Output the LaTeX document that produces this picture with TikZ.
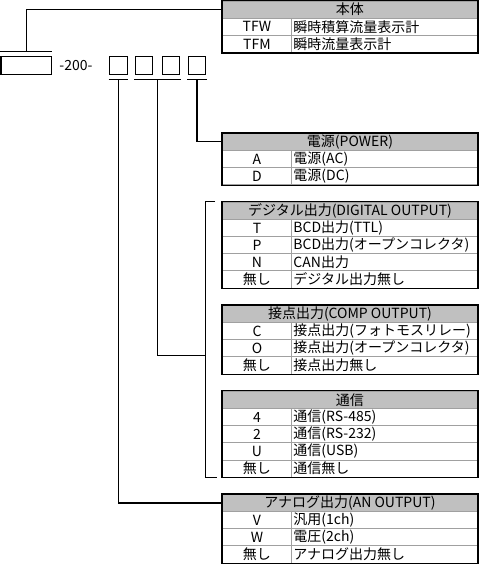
\documentclass[tikz,border=0pt]{standalone}
\usepackage{fontspec}
\setmainfont{Noto Sans CJK JP}
\usetikzlibrary{calc}
\definecolor{hdrgrey}{HTML}{C0C0C0}
\definecolor{sepgrey}{HTML}{A0A0A0}
\tikzset{
  conn/.style={draw=black, line width=0.8pt},
  hdr/.style={draw=sepgrey, fill=hdrgrey, line width=0.7pt, inner sep=0pt,
    minimum width=191.25pt, minimum height=12.89pt, anchor=north west},
  keycell/.style={draw=sepgrey, line width=0.7pt, inner sep=0pt,
    minimum width=51.75pt, minimum height=12.89pt, anchor=north west},
  valcell/.style={draw=sepgrey, line width=0.7pt, inner ysep=0pt, inner xsep=1.5pt,
    text width=136.5pt, align=left, minimum height=12.89pt, anchor=north west},
  tborder/.style={draw=black, line width=1pt},
  pbox/.style={draw=black, line width=0.8pt, minimum width=12.9pt,
    minimum height=13.2pt, inner sep=0pt},
}
\newcommand{\spectable}[5]{%
  \node[hdr] (#1h) at (222,#2) {#3};
  \foreach \k/\v [count=\i] in {#5} {
    \node[keycell] (#1k\i) at (222,{#2+\i*17.19}) {\k};
    \node[valcell] (#1v\i) at (291,{#2+\i*17.19}) {\v};
  }
  \draw[tborder] (#1h.north west) rectangle (#1v#4.south east);
}
\begin{document}
\begin{tikzpicture}[x=0.75pt,y=-0.75pt,font=\fontsize{10.5pt}{12pt}\selectfont]
\useasboundingbox (0,0) rectangle (479,565);

% model code boxes
\node[pbox, minimum width=38pt] (base) at (26.35,65.5) {};
\node (code) at (76,66) {-200-};
\node[pbox] (b1) at (118.5,65.5) {};
\node[pbox] (b2) at (143.9,65.5) {};
\node[pbox] (b3) at (171.2,65.5) {};
\node[pbox] (b4) at (197,65.5) {};

% tables
\spectable{ta}{0.6}{本体}{2}{TFW/瞬時積算流量表示計, TFM/瞬時流量表示計}
\spectable{tb}{132.9}{電源(POWER)}{2}{A/電源(AC), D/電源(DC)}
\spectable{tc}{201.7}{デジタル出力(DIGITAL OUTPUT)}{4}{T/BCD出力(TTL), P/BCD出力(オープンコレクタ), N/CAN出力, 無し/デジタル出力無し}
\spectable{td}{304.84}{接点出力(COMP OUTPUT)}{3}{C/接点出力(フォトモスリレー), O/接点出力(オープンコレクタ), 無し/接点出力無し}
\spectable{te}{390.8}{通信}{4}{4/通信(RS-485), 2/通信(RS-232), U/通信(USB), 無し/通信無し}
\spectable{tf}{493.9}{アナログ出力(AN OUTPUT)}{3}{V/汎用(1ch), W/電圧(2ch), 無し/アナログ出力無し}

% connectors
\draw[conn] ([shift={(0,-5)}]base.north west) -- ([shift={(0,-5)}]base.north east);
\draw[conn] ([shift={(0,-5)}]base.north) |- (tah.west);

\draw[conn] ([shift={(-0.7,5)}]b1.south west) -- ([shift={(0.7,5)}]b1.south east);
\draw[conn] ([shift={(0,5)}]b1.south) |- (tfh.west);

\draw[conn] ([shift={(-0.5,5)}]b2.south west) coordinate (u23a) -- ([shift={(0.5,5)}]b3.south east) coordinate (u23b);
\coordinate (brj) at (205.7,355.7);
\draw[conn] ([shift={(-7,0)}]tch.north west) -| (brj) |- ([shift={(-5.3,0)}]tek4.south west);
\draw[conn] ($(u23a)!0.5!(u23b)$) |- (brj);

\draw[conn] ([shift={(-0.5,5)}]b4.south west) -- ([shift={(0.5,5)}]b4.south east);
\draw[conn] ([shift={(0,5)}]b4.south) |- (tbh.west);
\end{tikzpicture}
\end{document}
